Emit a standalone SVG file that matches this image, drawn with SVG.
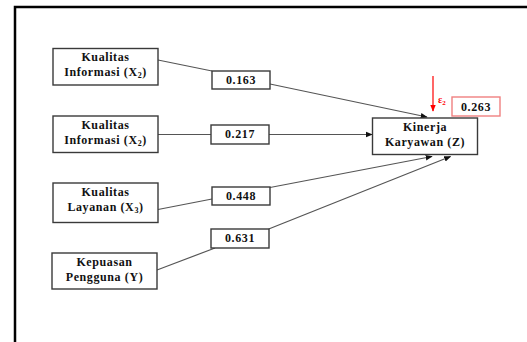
<svg xmlns="http://www.w3.org/2000/svg" width="527" height="342" viewBox="0 0 527 342">
<style>
.box{fill:#fff;stroke:#3a3a3a;stroke-width:1.4}
.t{font-family:"Liberation Serif",serif;font-weight:bold;font-size:12px;fill:#111;text-anchor:middle;letter-spacing:0.6px}
.sub{font-size:8px}
.ln{stroke:#555;stroke-width:1.2;fill:none}
</style>
<defs>
<marker id="ah" viewBox="0 0 10 10" refX="9" refY="5" markerWidth="7" markerHeight="7" markerUnits="userSpaceOnUse" orient="auto"><path d="M0,1 L10,5 L0,9 z" fill="#111"/></marker>
<marker id="ahr" viewBox="0 0 10 10" refX="9" refY="5" markerWidth="7" markerHeight="7" markerUnits="userSpaceOnUse" orient="auto"><path d="M0,1 L10,5 L0,9 z" fill="#f00"/></marker>
</defs>
<rect x="0" y="0" width="527" height="342" fill="#fff"/>
<path d="M15,342 V7 H527" fill="none" stroke="#000" stroke-width="2.5"/>
<g id="connectors">
<path class="ln" d="M158,60 L212,71"/>
<path class="ln" d="M270,84 L427,117" marker-end="url(#ah)"/>
<path class="ln" d="M158,134.5 L211,134.5"/>
<path class="ln" d="M269,134.5 L372,134.5" marker-end="url(#ah)"/>
<path class="ln" d="M158,209.5 L212,199"/>
<path class="ln" d="M270,187.5 L432,156.5" marker-end="url(#ah)"/>
<path class="ln" d="M157,270 L215,248"/>
<path class="ln" d="M268.7,229 L450.5,156.5" marker-end="url(#ah)"/>
<path d="M433,76 V111" stroke="#f00" stroke-width="1.2" marker-end="url(#ahr)"/>
</g>
<g id="n1"><rect class="box" x="53" y="48.5" width="105" height="36.5"/><text class="t" x="105.5" y="61">Kualitas</text><text class="t" x="105.5" y="75.5">Informasi (X<tspan class="sub" dy="2">2</tspan><tspan dy="-2">)</tspan></text></g>
<g id="n2"><rect class="box" x="53" y="116" width="105" height="36.5"/><text class="t" x="105.5" y="129">Kualitas</text><text class="t" x="105.5" y="143.5">Informasi (X<tspan class="sub" dy="2">2</tspan><tspan dy="-2">)</tspan></text></g>
<g id="n3"><rect class="box" x="53" y="183" width="105" height="39.5"/><text class="t" x="105.5" y="196">Kualitas</text><text class="t" x="105.5" y="210.5">Layanan (X<tspan class="sub" dy="2">3</tspan><tspan dy="-2">)</tspan></text></g>
<g id="n4"><rect class="box" x="52" y="253" width="105" height="36"/><text class="t" x="104.5" y="266">Kepuasan</text><text class="t" x="104.5" y="280.5">Pengguna (Y)</text></g>
<g id="z"><rect class="box" x="372.5" y="118" width="105" height="36.5"/><text class="t" x="425" y="131">Kinerja</text><text class="t" x="425" y="145.5">Karyawan (Z)</text></g>
<g id="c1"><rect class="box" x="212" y="71" width="58" height="18"/><text class="t" x="241" y="83.5">0.163</text></g>
<g id="c2"><rect class="box" x="211" y="125" width="58" height="19"/><text class="t" x="240" y="138">0.217</text></g>
<g id="c3"><rect class="box" x="212" y="187" width="58" height="18"/><text class="t" x="241" y="199.5">0.448</text></g>
<g id="c4"><rect class="box" x="211" y="229" width="58" height="19"/><text class="t" x="240" y="242">0.631</text></g>
<g id="e2"><rect x="452" y="97" width="48" height="19" fill="#fff" stroke="#f08080" stroke-width="1.4"/><text class="t" x="476" y="110.5">0.263</text><text x="438" y="103" font-family="Liberation Serif,serif" font-weight="bold" font-size="10px" fill="#f00">ε<tspan font-size="7px" dy="2">2</tspan></text></g>
</svg>
